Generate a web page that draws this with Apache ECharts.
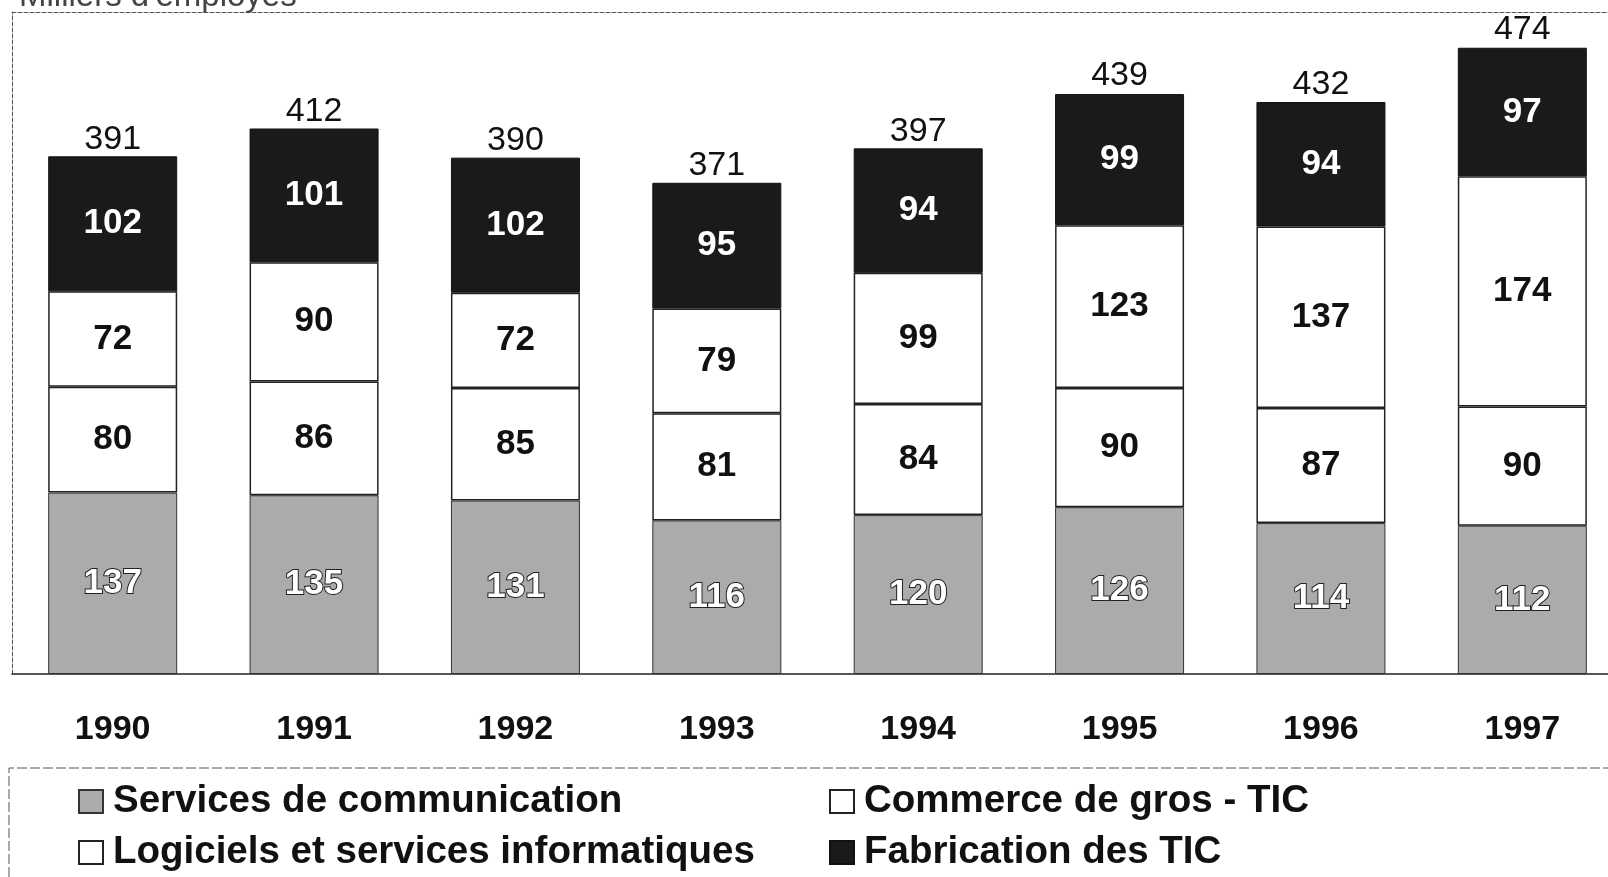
<!DOCTYPE html>
<html>
<head>
<meta charset="utf-8">
<title>Emploi TIC</title>
<script src="https://cdn.jsdelivr.net/npm/echarts@6/dist/echarts.min.js"></script>
<style>
  html, body {
    margin: 0;
    padding: 0;
    background: #fff;
  }
  #tic-emploi {
    width: 1608px;
    height: 877px;
  }
</style>
</head>
<body>
<div id="tic-emploi"></div>
<script>
// milliers d'employés, de bas en haut de chaque barre
var years = ['1990', '1991', '1992', '1993', '1994', '1995', '1996', '1997'];
var services = [137, 135, 131, 116, 120, 126, 114, 112];
var commerce = [80, 86, 85, 81, 84, 90, 87, 90];
var logiciels = [72, 90, 72, 79, 99, 123, 137, 174];
var fabrication = [102, 101, 102, 95, 94, 99, 94, 97];
var totals = [391, 412, 390, 371, 397, 439, 432, 474];

var chartDom = document.getElementById('tic-emploi');
var myChart = echarts.init(chartDom);
var option;

var font = "'Liberation Sans', Arial, sans-serif";
var barW = 129;

function innerLabel(color, border) {
  return {
    show: true,
    position: 'inside',
    fontFamily: font,
    fontSize: 35,
    fontWeight: 'bold',
    color: color,
    textBorderColor: border || 'transparent',
    textBorderWidth: border ? 2 : 0
  };
}

var legendText = {
  fontFamily: font,
  fontSize: 38.5,
  fontWeight: 'bold',
  color: '#111',
  padding: [0, 0, 0, 5]
};

option = {
  animation: false,
  backgroundColor: '#fff',
  textStyle: { fontFamily: font },
  title: {
    text: "Milliers d'employés",
    left: 14,
    top: -25,
    textStyle: {
      fontFamily: font,
      fontSize: 33,
      fontWeight: 'normal',
      color: '#444'
    }
  },
  grid: {
    left: 12,
    top: 12,
    width: 1611,
    bottom: 203,
    outerBoundsMode: 'none'
  },
  legend: [
    {
      data: ['Services de communication', 'Logiciels et services informatiques'],
      orient: 'vertical',
      left: 78,
      top: 782,
      padding: 0,
      icon: 'rect',
      itemWidth: 24,
      itemHeight: 23,
      itemGap: 12,
      selectedMode: false,
      textStyle: legendText
    },
    {
      data: ['Commerce de gros - TIC', 'Fabrication des TIC'],
      orient: 'vertical',
      left: 829,
      top: 782,
      padding: 0,
      icon: 'rect',
      itemWidth: 24,
      itemHeight: 23,
      itemGap: 12,
      selectedMode: false,
      textStyle: legendText
    }
  ],
  xAxis: [
    {
      type: 'category',
      data: years,
      axisLine: { lineStyle: { color: '#222', width: 1.5 } },
      axisTick: { inside: true, length: 8, lineStyle: { color: '#222', width: 1.5 } },
      axisLabel: {
        margin: 39,
        fontFamily: font,
        fontSize: 34,
        fontWeight: 'bold',
        color: '#111'
      }
    },
    {
      type: 'category',
      data: years,
      position: 'top',
      axisLine: { lineStyle: { color: '#555', type: 'dashed' } },
      axisTick: { show: false },
      axisLabel: { show: false }
    }
  ],
  yAxis: {
    type: 'value',
    min: 0,
    max: 500,
    axisLine: { show: true, lineStyle: { color: '#555', type: 'dashed' } },
    axisTick: { show: false },
    axisLabel: { show: false },
    splitLine: { show: false }
  },
  graphic: [
    {
      type: 'polyline',
      shape: { points: [[9, 877], [9, 768], [1608, 768]] },
      style: { stroke: '#555', lineWidth: 1, lineDash: [10, 3], fill: null }
    }
  ],
  series: [
    {
      name: 'Services de communication',
      type: 'bar',
      stack: 'Total',
      barWidth: barW,
      data: services,
      itemStyle: { color: '#ababab', borderColor: '#333', borderWidth: 1 },
      label: innerLabel('#fff', '#222')
    },
    {
      name: 'Commerce de gros - TIC',
      type: 'bar',
      stack: 'Total',
      barWidth: barW,
      data: commerce,
      itemStyle: { color: '#fff', borderColor: '#222', borderWidth: 1.5 },
      label: innerLabel('#111')
    },
    {
      name: 'Logiciels et services informatiques',
      type: 'bar',
      stack: 'Total',
      barWidth: barW,
      data: logiciels,
      itemStyle: { color: '#fff', borderColor: '#222', borderWidth: 1.5 },
      label: innerLabel('#111')
    },
    {
      name: 'Fabrication des TIC',
      type: 'bar',
      stack: 'Total',
      barWidth: barW,
      data: fabrication,
      itemStyle: { color: '#1a1a1a', borderColor: '#111', borderWidth: 1 },
      label: innerLabel('#fff')
    },
    {
      name: 'Total',
      type: 'bar',
      barWidth: barW,
      barGap: '-100%',
      silent: true,
      z: 1,
      data: totals,
      itemStyle: { color: 'rgba(0,0,0,0)' },
      label: {
        show: true,
        position: 'top',
        distance: 0,
        fontFamily: font,
        fontSize: 34,
        color: '#111'
      }
    }
  ]
};

option && myChart.setOption(option);
</script>
</body>
</html>
